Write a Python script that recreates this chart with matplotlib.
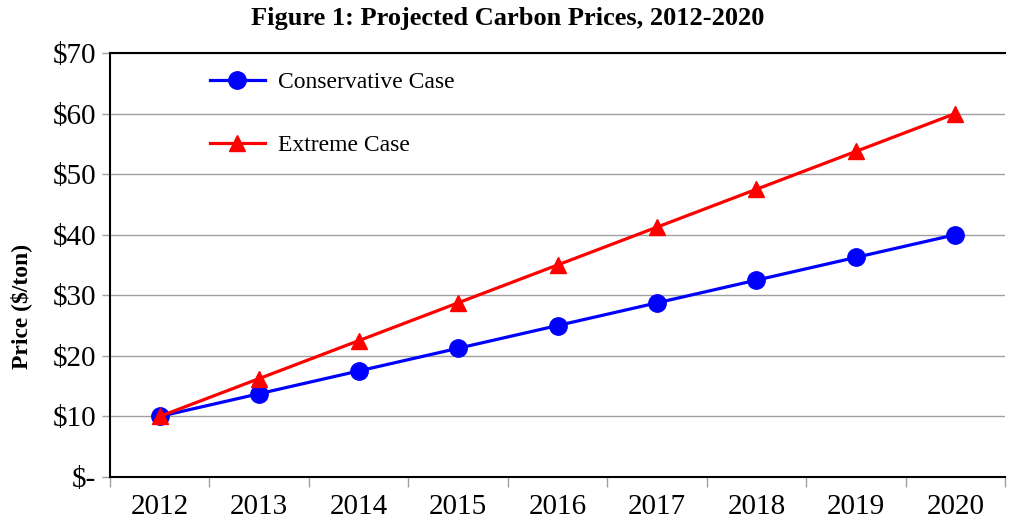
import numpy as np
import matplotlib
matplotlib.use("Agg")
import matplotlib.pyplot as plt
from matplotlib.ticker import FixedLocator, NullFormatter

# Data

years = ["2012", "2013", "2014", "2015", "2016", "2017", "2018", "2019", "2020"]
conservative = [10.0, 13.75, 17.5, 21.25, 25.0, 28.75, 32.5, 36.25, 40.0]
extreme = [10.0, 16.25, 22.5, 28.75, 35.0, 41.25, 47.5, 53.75, 60.0]
y_ticks = [0, 10, 20, 30, 40, 50, 60, 70]
y_labels = ["$-", "$10", "$20", "$30", "$40", "$50", "$60", "$70"]

C_CONS = "#0000FF"
C_EXT = "#FF0000"
C_GRID = "#A0A0A0"

plt.rcParams["font.family"] = ["Liberation Serif", "DejaVu Serif"]

fig = plt.figure(figsize=(10.16, 5.19), dpi=100, facecolor="white")
ax = fig.add_axes([110 / 1016, 1 - 477 / 519, 895 / 1016, 424 / 519])

x = np.arange(len(years))
ax.plot(x, conservative, color=C_CONS, linewidth=2.3, marker="o",
        markersize=12.5, label="Conservative Case", zorder=3)
ax.plot(x, extreme, color=C_EXT, linewidth=2.3, marker="^",
        markersize=11, label="Extreme Case", zorder=4)

ax.set_xlim(-0.5, len(years) - 0.5)
ax.set_ylim(0, 70)

# y axis
ax.set_yticks(y_ticks)
ax.set_yticklabels(y_labels, fontsize=21)
ax.yaxis.grid(True, color=C_GRID, linewidth=1.0)
ax.set_axisbelow(True)
ax.tick_params(axis="y", length=6, width=1, color=C_GRID, pad=4)

# x axis: labels centred, tick marks on category boundaries
ax.set_xticks(x)
ax.set_xticklabels(years, fontsize=21)
ax.tick_params(axis="x", which="major", length=0, pad=12)
ax.xaxis.set_minor_locator(FixedLocator(np.arange(-0.5, len(years), 1.0)))
ax.xaxis.set_minor_formatter(NullFormatter())
ax.tick_params(axis="x", which="minor", length=7, width=1, color=C_GRID)

for side in ["left", "bottom", "top"]:
    ax.spines[side].set_color("black")
    ax.spines[side].set_linewidth(1.5)
ax.spines["right"].set_visible(False)

ax.set_ylabel("Price ($/ton)", fontsize=17, fontweight="bold")
ax.yaxis.set_label_coords(-0.087, 0.403)
fig.suptitle("Figure 1: Projected Carbon Prices, 2012-2020", fontsize=19,
             fontweight="bold", y=0.987)

ax.legend(loc="upper left", bbox_to_anchor=(0.091, 1.0), frameon=False,
          fontsize=17, handlelength=2.3, handletextpad=0.55, labelspacing=1.75,
          borderaxespad=0.4)

fig.savefig("out.png", dpi=100, facecolor="white")
